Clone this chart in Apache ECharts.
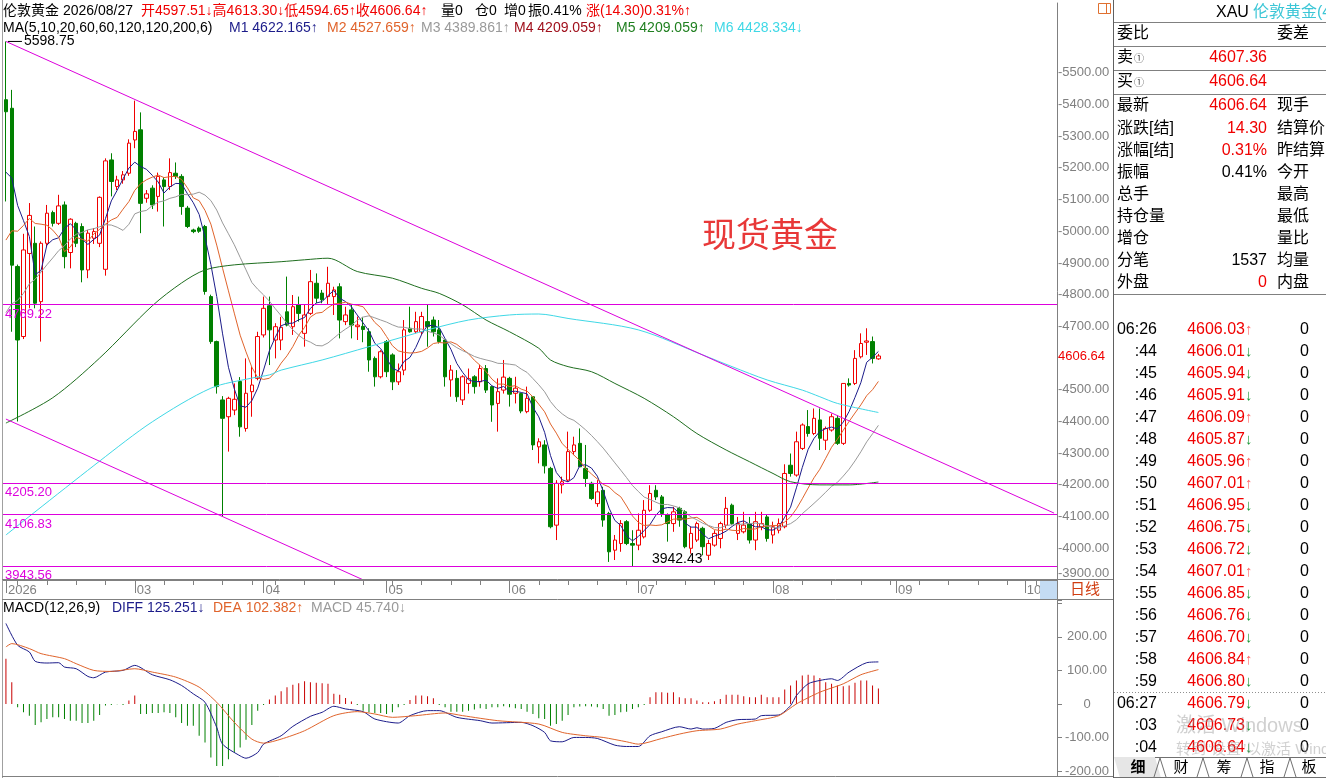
<!DOCTYPE html>
<html><head><meta charset="utf-8">
<script src="https://cdn.jsdelivr.net/npm/echarts@6/dist/echarts.min.js"></script>
<style>html,body{margin:0;padding:0;background:#fff;overflow:hidden}#c{width:1326px;height:778px}</style>
</head><body><div id="c"></div>
<script>
// ---------- DATA ----------
const firstDay = [2026, 0, 29];
const slotCount = 180;
const holidays = ['2026-04-03'];
const categories = [];
(function () {
  const d = new Date(Date.UTC(firstDay[0], firstDay[1], firstDay[2]));
  while (categories.length < slotCount) {
    const wd = d.getUTCDay();
    const s = d.toISOString().slice(0, 10);
    if (wd !== 0 && wd !== 6 && holidays.indexOf(s) < 0) categories.push(s);
    d.setUTCDate(d.getUTCDate() + 1);
  }
})();

// closes before the first visible bar (for moving averages)
const historyCloses = [4330,4445,4495,4455,4478,4510,4600,4590,4625,4615,4600,4670,4760,4830,4930,4985,5090,5180,5300];

// [open, close, low, high]
const ohlc = [
[5415,5377,5094,5598.75],[5388,4893,4683,5446],[4889,4657,4400,4895],[4668,4941,4660,4992],[4930,5050,4757,5089],
[4962,4773,4757,5015],[4778,4962,4652,4968],[4962,5057,4950,5083],[5059,5025,5015,5065],[5025,5080,5020,5115],
[5083,4920,4883,5094],[4933,5038,4883,5041],[5025,4962,4950,5030],[5015,4878,4839,5025],[4878,4994,4852,5004],
[4978,4999,4960,5010],[4962,5107,4950,5110],[4880,5222,4860,5230],[5225,5157,5110,5246],[5141,5162,5130,5175],
[5162,5178,5150,5190],[5183,5278,5175,5290],[5288,5315,5262,5412],[5320,5088,4994,5375],[5104,5118,5090,5130],
[5136,5083,5070,5145],[5110,5173,5062,5185],[5162,5141,5015,5170],[5141,5185,5130,5230],[5183,5173,5165,5217],
[5173,5078,5052,5180],[5073,5015,5010,5080],[5004,4999,4994,5008],[5010,5000,4995,5015],[5015,4810,4800,5020],
[4794,4652,4645,4800],[4652,4510,4488,4655],[4468,4410,4100,4480],[4415,4473,4305,4478],[4436,4470,4420,4520],
[4526,4383,4352,4540],[4378,4489,4368,4599],[4494,4515,4415,4573],[4536,4668,4530,4683],[4673,4757,4665,4794],
[4765,4689,4578,4794],[4657,4699,4599,4710],[4657,4697,4625,4730],[4746,4704,4700,4857],[4699,4762,4673,4799],
[4768,4741,4715,4794],[4678,4736,4636,4768],[4741,4841,4736,4878],[4836,4789,4773,4867],[4805,4784,4773,4815],
[4794,4836,4768,4888],[4794,4815,4736,4825],[4825,4720,4662,4836],[4715,4736,4704,4762],[4752,4704,4662,4768],
[4699,4704,4657,4731],[4700,4690,4650,4730],[4683,4594,4557,4694],[4599,4541,4510,4605],[4541,4620,4536,4625],
[4652,4557,4540,4657],[4610,4525,4499,4615],[4525,4557,4515,4583],[4562,4689,4546,4720],[4694,4683,4680,4762],
[4683,4715,4678,4746],[4683,4731,4673,4746],[4715,4699,4636,4768],[4720,4683,4668,4731],[4689,4652,4646,4720],
[4657,4541,4510,4660],[4531,4562,4478,4578],[4536,4478,4462,4562],[4468,4541,4452,4546],[4520,4535,4488,4567],
[4541,4510,4488,4546],[4525,4567,4510,4578],[4567,4499,4490,4578],[4510,4452,4399,4510],[4457,4494,4368,4536],
[4499,4540,4488,4594],[4536,4486,4447,4541],[4489,4505,4457,4541],[4488,4433,4426,4490],[4431,4473,4426,4510],
[4478,4326,4310,4480],[4320,4336,4268,4347],[4326,4260,4236,4341],[4252,4068,4063,4257],[4073,4205,4026,4215],
[4200,4210,4173,4226],[4215,4305,4210,4368],[4305,4326,4294,4352],[4331,4257,4257,4378],[4252,4220,4194,4326],
[4205,4157,4152,4210],[4141,4178,4131,4215],[4183,4089,4068,4194],[4110,3989,3957,4115],[3994,4026,3963,4042],
[4015,4078,3989,4089],[4084,4015,4010,4089],[4015,4010,3942.43,4057],[4010,4057,3994,4110],[4036,4120,4031,4152],
[4120,4173,4115,4199],[4183,4162,4152,4199],[4162,4110,4099,4168],[4105,4078,4021,4110],[4078,4115,4052,4131],
[4126,4089,4068,4131],[4115,4005,4000,4120],[4000,4047,3983,4068],[4026,4078,4020,4084],[4063,4005,3978,4068],
[3978,4015,3963,4026],[4010,4047,4005,4057],[4031,4078,4000,4084],[4073,4126,4063,4162],[4136,4078,4073,4141],
[4047,4078,4026,4099],[4052,4073,4047,4115],[4078,4026,4015,4099],[4026,4084,3994,4115],[4068,4078,4057,4115],
[4099,4031,4021,4105],[4042,4068,4015,4084],[4057,4078,4047,4094],[4068,4236,4063,4265],[4262,4236,4226,4299],
[4231,4336,4226,4368],[4315,4389,4310,4394],[4384,4362,4352,4436],[4362,4410,4357,4441],[4405,4347,4310,4441],
[4341,4378,4310,4384],[4373,4415,4368,4425],[4410,4331,4326,4420],[4331,4520,4326,4520],[4520,4515,4510,4536],
[4520,4599,4515,4625],[4604,4646,4599,4678],[4650,4654,4610,4694],[4652,4599,4583,4668],[4597.51,4606.64,4594.65,4613.30]
];

// MA60 and MA120: [barIndex, value]
const ma60Points = [[0,4395],[8,4475],[16,4600],[25,4765],[30,4837],[34,4878],[39,4894],[47,4904],[51,4910],[55,4915],
[60,4873],[66,4852],[71,4820],[74,4804],[78,4768],[82,4720],[86,4683],[91,4631],[93,4594],[96,4573],[100,4557],
[104,4520],[109,4473],[114,4415],[118,4362],[123,4310],[127,4273],[131,4236],[134,4210],[139,4200],[144,4200],[149,4209.06]];
const ma120Points = [[0,4042],[16,4275],[25,4399],[35,4505],[42,4537],[45,4547],[47,4562],[54,4594],[62,4636],[69,4673],
[72,4689],[79,4720],[86,4736],[91,4739],[96,4725],[108,4689],[119,4610],[124,4573],[130,4531],[136,4499],[139,4478],
[142,4457],[149,4428.33]];

// MACD
const diffPoints = [[0,240],[2,175],[4,155],[5,127],[7,122],[9,123],[10,110],[12,105],[14,82],[15,78],[17,95],[20,100],
[22,115],[25,87],[28,72],[30,55],[32,30],[34,5],[36,-70],[37,-120],[40,-155],[41,-162],[43,-145],[44,-120],[47,-95],
[49,-67],[52,-37],[54,-25],[56,-7],[58,-15],[61,-23],[63,-45],[67,-57],[69,-35],[72,-20],[74,-20],[77,-40],[81,-50],
[83,-57],[88,-55],[90,-65],[92,-85],[93,-110],[95,-113],[97,-100],[99,-100],[101,-103],[104,-123],[106,-127],[108,-127],
[110,-95],[112,-83],[115,-68],[117,-75],[118,-71],[119,-75],[121,-73],[123,-55],[125,-47],[128,-45],[129,-35],[132,-33],
[134,-5],[135,25],[137,60],[139,70],[141,75],[142,70],[144,95],[147,123],[149,125.25]];
const deaPoints = [[0,170],[1,180],[4,165],[6,150],[10,135],[12,120],[15,100],[18,97],[22,105],[25,95],[29,80],[33,50],
[36,5],[39,-55],[42,-105],[44,-117],[47,-105],[51,-80],[56,-35],[60,-23],[63,-30],[66,-40],[70,-35],[75,-27],[78,-35],
[84,-50],[91,-60],[95,-85],[99,-95],[102,-100],[106,-113],[108,-120],[112,-103],[115,-90],[118,-80],[122,-75],[125,-60],
[128,-50],[132,-35],[135,0],[139,35],[143,60],[146,87],[149,102.38]];
const macdHist = [
135,65,-10,-25,-35,-63,-55,-45,-40,-40,
-45,-50,-50,-57,-57,-50,-33,-5,-3,-1,
-3,10,25,-30,-30,-27,-27,-25,-27,-40,
-57,-65,-65,-95,-115,-160,-185,-185,-165,-145,
-130,-107,-63,-20,-3,13,25,38,50,57,
62,68,65,63,62,60,30,27,18,7,
-3,-20,-25,-27,-27,-30,-25,-10,-3,12,
25,25,23,17,-3,-10,-23,-23,-23,-20,
-17,-13,-15,-10,-10,-7,-10,-13,-15,-23,
-30,-43,-45,-65,-60,-50,-33,-10,-8,-7,
-8,-10,-15,-35,-33,-25,-23,-15,-10,-3,
20,35,35,33,35,20,17,17,10,5,
5,8,15,27,27,27,23,20,20,27,
20,20,20,43,55,70,85,87,85,77,
65,60,55,53,55,63,70,70,55,45.74];

// drawn levels and trend lines
const hLevels = [4769.22, 4205.20, 4106.83, 3943.56];
const trendLines = [[[0,5598.75],[179,4111]], [[0,4407.6],[61,3900.5]]];
const lastPrice = 4606.64;
const priceTickLabels = [3900,4000,4100,4200,4300,4400,4500,4700,4800,4900,5000,5100,5200,5300,5400,5500];

// header texts
const header1 = [[3,'伦敦黄金 2026/08/27','#000'],[141,'开4597.51↓高4613.30↓低4594.65↑收4606.64↑','#f00000'],
  [441,'量0','#000'],[475,'仓0','#000'],[504,'增0','#000'],[528,'振0.41%','#000'],[586,'涨(14.30)0.31%↑','#f00000']];
const header2 = [[3,'MA(5,10,20,60,60,120,120,200,6)','#000'],[229,'M1 4622.165↑','#1c1c8a'],[327,'M2 4527.659↑','#e0642c'],
  [421,'M3 4389.861↑','#9a9a9a'],[514,'M4 4209.059↑','#a0101c'],[616,'M5 4209.059↑','#1f7f1f'],[714,'M6 4428.334↓','#3fd8e6']];
const macdHeader = [[3,'MACD(12,26,9)','#000'],[112,'DIFF 125.251↓','#1c1c8a'],[213,'DEA 102.382↑','#e0642c'],[311,'MACD 45.740↓','#9a9a9a']];

// right quote panel
const quoteRows = [
  ['委比','', '#000','委差'],
  ['卖①','4607.36','#f00000',''],
  ['买①','4606.64','#f00000',''],
  ['最新','4606.64','#f00000','现手'],
  ['涨跌[结]','14.30','#f00000','结算价'],
  ['涨幅[结]','0.31%','#f00000','昨结算'],
  ['振幅','0.41%','#000','今开'],
  ['总手','','#000','最高'],
  ['持仓量','','#000','最低'],
  ['增仓','','#000','量比'],
  ['分笔','1537','#000','均量'],
  ['外盘','0','#f00000','内盘']
];
const quoteRowY = [33.5,58,82,106,128.5,150.5,172.5,195,216.5,238.5,260.5,282.5];
const tickTimes = ['06:26',':44',':45',':46',':47',':48',':49',':50',':51',':52',':53',':54',':55',':56',':57',':58',':59','06:27',':03',':04'];
const tickPrices = ['4606.03','4606.01','4605.94','4605.91','4606.09','4605.87','4605.96','4607.01','4606.95','4606.75','4606.72','4607.01','4606.85','4606.76','4606.70','4606.84','4606.80','4606.79','4606.73','4606.64'];
const tickDirs = ['↑','↓','↓','↓','↑','↓','↑','↑','↓','↓','↓','↑','↓','↓','↓','↑','↓','↓','↓','↓'];
const tickVols = [0,0,0,0,0,0,0,0,0,0,0,0,0,0,0,0,0,0,0,0];
const tabNames = ['细','财','筹','指','板'];

// ---------- BUILD ----------
function movingAvg(period) {
  const all = historyCloses.concat(ohlc.map(d => d[1]));
  const out = [];
  for (let i = 0; i < ohlc.length; i++) {
    const end = historyCloses.length + i, start = end - period + 1;
    if (start < 0) { out.push(null); continue; }
    let s = 0; for (let k = start; k <= end; k++) s += all[k];
    out.push(+(s / period).toFixed(3));
  }
  return out;
}
function sparse(points) {
  const a = new Array(categories.length).fill(null);
  points.forEach(p => { a[p[0]] = p[1]; });
  return a;
}
// first bar carries the year label; following month starts carry the month label
function isMonthStart(i) {
  if (i === 0) return true;
  if (i < 6) return false;
  return categories[i].slice(5, 7) !== categories[i - 1].slice(5, 7);
}
function isMonday(v) { return new Date(v + 'T00:00:00Z').getUTCDay() === 1; }

const F = '"Liberation Sans","Noto Sans CJK SC",sans-serif';
const MAG = '#dd00dd';
const GREY = '#808080';
const RED = '#f00000';
const CLEAR = 'rgba(0,0,0,0)';

const G = [];
function T(x, y, text, fill, size, extra) {
  G.push({ type: 'text', x: x, y: y, z: 100, silent: true,
    style: Object.assign({ text: text, fill: fill, fontSize: size, fontFamily: F, align: 'left', verticalAlign: 'middle' }, extra || {}) });
}
function L(x1, y1, x2, y2, stroke, dash) {
  const st = { stroke: stroke, lineWidth: 1 };
  if (dash) st.lineDash = dash;
  G.push({ type: 'line', z: 99, silent: true, shape: { x1: x1, y1: y1, x2: x2, y2: y2 }, style: st });
}
function R(x, y, w, h, fill, stroke) {
  G.push({ type: 'rect', z: 98, silent: true, shape: { x: x, y: y, width: w, height: h }, style: { fill: fill, stroke: stroke || null, lineWidth: 1 } });
}

// frame lines
L(2.5, 0, 2.5, 778, '#a0a0a0');
L(1113.5, 0, 1113.5, 778, '#606060');
L(2, 579.5, 1113, 579.5, GREY);
L(2, 599.5, 1113, 599.5, GREY);
L(1057.5, 580, 1057.5, 599, GREY);
L(2, 776.5, 1113, 776.5, GREY);
R(1040, 581, 17, 18, '#c4dcf4');
T(1070, 590, '日线', '#d03c10', 15);
// layout icon
R(1098.5, 3.5, 12, 10, 'none', '#e07030');
L(1106.5, 3.5, 1106.5, 13.5, '#e07030');

// headers
header1.forEach(h => T(h[0], 11, h[1], h[2], 14));
header2.forEach(h => T(h[0], 28.5, h[1], h[2], 14));
macdHeader.forEach(h => T(h[0], 608.5, h[1], h[2], 14));
T(770, 238, '现货黄金', '#e83838', 34, { align: 'center' });

// right panel
T(1216, 12.5, 'XAU', '#000', 16);
T(1253, 12.5, '伦敦黄金(4', '#3cc6d6', 16);
[22.5, 46.5, 70.5, 94.5, 294.5].forEach(y => L(1114, y, 1326, y, '#808080'));
quoteRows.forEach((r, k) => {
  const y = quoteRowY[k];
  if (r[0].indexOf('①') >= 0) {
    T(1117, y, r[0].replace('①', ''), '#000', 16);
    T(1134, y + 1, '①', '#444', 10);
  } else {
    T(1117, y, r[0], '#000', 16);
  }
  if (r[1]) T(1267, y, r[1], r[2], 16, { align: 'right' });
  if (r[3]) T(1277, y, r[3], '#000', 16);
});
tickTimes.forEach((t, k) => {
  const y = 329.5 + 22 * k;
  T(1157, y, t, '#000', 16, { align: 'right' });
  T(1245, y, tickPrices[k], RED, 16, { align: 'right' });
  T(1245, y, tickDirs[k], tickDirs[k] === '↑' ? '#ff6a6a' : '#1f9a3a', 15);
  T(1309, y, String(tickVols[k]), '#000', 16, { align: 'right' });
});
L(1114, 692.5, 1326, 692.5, '#909090', [1, 2]);
// watermark
T(1176, 726, '激活 Windows', 'rgba(150,150,150,0.45)', 20);
T(1176, 750, '转到“设置”以激活 Windows。', 'rgba(150,150,150,0.45)', 15);
// tabs
G.push({ type: 'polygon', z: 97, silent: true, shape: { points: [[1114, 757], [1155, 757], [1161, 778], [1120, 778]] }, style: { fill: '#e6e6e6' } });
L(1155, 757.5, 1326, 757.5, '#707070');
[1160, 1203, 1247, 1290].forEach(bx => { L(bx - 6, 777, bx, 758, '#707070'); L(bx, 758, bx + 6, 777, '#707070'); });
L(1114, 777.5, 1326, 777.5, '#707070');
[1138, 1181, 1224, 1267, 1309].forEach((cx, k) => T(cx, 767.5, tabNames[k], '#000', 15, { align: 'center', fontWeight: k === 0 ? 'bold' : 'normal' }));

// ---------- CHART ----------
const chart = echarts.init(document.getElementById('c'), null, { renderer: 'canvas' });
const markLineData = [];
hLevels.forEach(v => markLineData.push({ yAxis: v, lineStyle: { color: MAG, width: 1, type: 'solid' },
  label: { show: true, position: 'insideStartBottom', formatter: v.toFixed(2), color: MAG, fontSize: 13, fontFamily: F, distance: [2, 3] } }));
trendLines.forEach(t => markLineData.push([{ coord: t[0], lineStyle: { color: MAG, width: 1, type: 'solid' }, label: { show: false } }, { coord: t[1] }]));
markLineData.push({ yAxis: lastPrice, lineStyle: { color: CLEAR, width: 1 }, label: { show: true, position: 'end', distance: 1, formatter: lastPrice.toFixed(2), color: RED, fontSize: 13, fontFamily: F } });
markLineData.push({ yAxis: priceTickLabels[0], lineStyle: { color: CLEAR, width: 1 }, label: { show: true, position: 'end', distance: 1, offset: [0, -7], formatter: '-' + priceTickLabels[0].toFixed(2), color: GREY, fontSize: 13, fontFamily: F } });

const option = {
  animation: false,
  backgroundColor: '#fff',
  grid: [
    { left: 3, top: 3, width: 1054, height: 577 },
    { left: 3, top: 600, width: 1054, height: 176 }
  ],
  xAxis: [
    { type: 'category', gridIndex: 0, data: categories, boundaryGap: true,
      axisLine: { show: true, lineStyle: { color: GREY } },
      axisTick: { show: true, alignWithLabel: true, length: 5, interval: (i, v) => isMonday(v), lineStyle: { color: GREY } },
      axisLabel: { show: true, hideOverlap: false, interval: (i) => isMonthStart(i), formatter: (v, i) => i === 0 ? '2026' : v.slice(5, 7),
        align: 'left', color: GREY, fontSize: 13, fontFamily: F, margin: 4, padding: [0, 0, 0, 2] },
      splitLine: { show: false } },
    { type: 'category', gridIndex: 0, data: categories, boundaryGap: true, position: 'bottom',
      axisLine: { show: false },
      axisTick: { show: true, alignWithLabel: true, length: 13, interval: (i) => isMonthStart(i), lineStyle: { color: GREY } },
      axisLabel: { show: false }, splitLine: { show: false } },
    { type: 'category', gridIndex: 1, data: categories, boundaryGap: true, show: false }
  ],
  yAxis: [
    { type: 'value', gridIndex: 0, position: 'right', min: 3900, max: 5720, interval: 100,
      axisLine: { show: true, lineStyle: { color: GREY } }, axisTick: { show: false },
      axisLabel: { color: GREY, fontSize: 13, fontFamily: F, margin: 1,
        formatter: v => priceTickLabels.indexOf(v) > 0 ? '-' + v.toFixed(2) : '' },
      splitLine: { show: false } },
    { type: 'value', gridIndex: 1, position: 'right', min: -215, max: 310, splitNumber: 5,
      axisLine: { show: true, lineStyle: { color: GREY } }, axisTick: { show: true, length: 5, lineStyle: { color: GREY } },
      axisLabel: { color: GREY, fontSize: 13, fontFamily: F, margin: 30, align: 'center',
        formatter: v => (Math.abs(v % 100) > 0.001 || v >= 300) ? '' : (v === 0 ? '0' : v.toFixed(2)) },
      splitLine: { show: false } }
  ],
  series: [
    { type: 'candlestick', name: 'K', xAxisIndex: 0, yAxisIndex: 0, data: ohlc.map(d => [d[0], d[1], d[2], d[3]]), barWidth: 4,
      itemStyle: { color: '#ffffff', color0: '#008000', borderColor: RED, borderColor0: '#008000', borderWidth: 1 },
      markLine: { silent: true, symbol: ['none', 'none'], animation: false, data: markLineData },
      markPoint: { silent: true, animation: false, data: [
        { type: 'max', valueDim: 'highest', symbol: 'rect', symbolSize: [14, 1], symbolOffset: [9, 0], itemStyle: { color: '#000' },
          label: { show: true, position: 'right', distance: 2, color: '#000', fontSize: 14, fontFamily: F, formatter: p => (+p.value).toFixed(2) } },
        { type: 'min', valueDim: 'lowest', symbol: 'circle', symbolSize: 1, itemStyle: { color: CLEAR },
          label: { show: true, position: 'right', distance: 19, offset: [0, -7], color: '#000', fontSize: 14, fontFamily: F, formatter: p => (+p.value).toFixed(2) } }
      ] } },
    { type: 'line', name: 'MA5', data: movingAvg(5), xAxisIndex: 0, yAxisIndex: 0, showSymbol: false, silent: true, lineStyle: { color: '#1c1c8a', width: 1 } },
    { type: 'line', name: 'MA10', data: movingAvg(10), xAxisIndex: 0, yAxisIndex: 0, showSymbol: false, silent: true, lineStyle: { color: '#e0642c', width: 1 } },
    { type: 'line', name: 'MA20', data: movingAvg(20), xAxisIndex: 0, yAxisIndex: 0, showSymbol: false, silent: true, lineStyle: { color: '#9a9a9a', width: 1 } },
    { type: 'line', name: 'MA60', data: sparse(ma60Points), connectNulls: true, smooth: 0.3, xAxisIndex: 0, yAxisIndex: 0, showSymbol: false, silent: true, lineStyle: { color: '#1f6e1f', width: 1 } },
    { type: 'line', name: 'MA120', data: sparse(ma120Points), connectNulls: true, smooth: 0.3, xAxisIndex: 0, yAxisIndex: 0, showSymbol: false, silent: true, lineStyle: { color: '#3fd8e6', width: 1 } },
    { type: 'bar', name: 'MACD', xAxisIndex: 2, yAxisIndex: 1, barWidth: 1, silent: true,
      data: macdHist.map(v => ({ value: v, itemStyle: { color: v >= 0 ? '#c80000' : '#008000' } })) },
    { type: 'line', name: 'DIFF', data: sparse(diffPoints), connectNulls: true, smooth: 0.25, xAxisIndex: 2, yAxisIndex: 1, showSymbol: false, silent: true, lineStyle: { color: '#1c1c8a', width: 1 } },
    { type: 'line', name: 'DEA', data: sparse(deaPoints), connectNulls: true, smooth: 0.25, xAxisIndex: 2, yAxisIndex: 1, showSymbol: false, silent: true, lineStyle: { color: '#e0642c', width: 1 } }
  ],
  graphic: { elements: G }
};
chart.setOption(option);
</script></body></html>
